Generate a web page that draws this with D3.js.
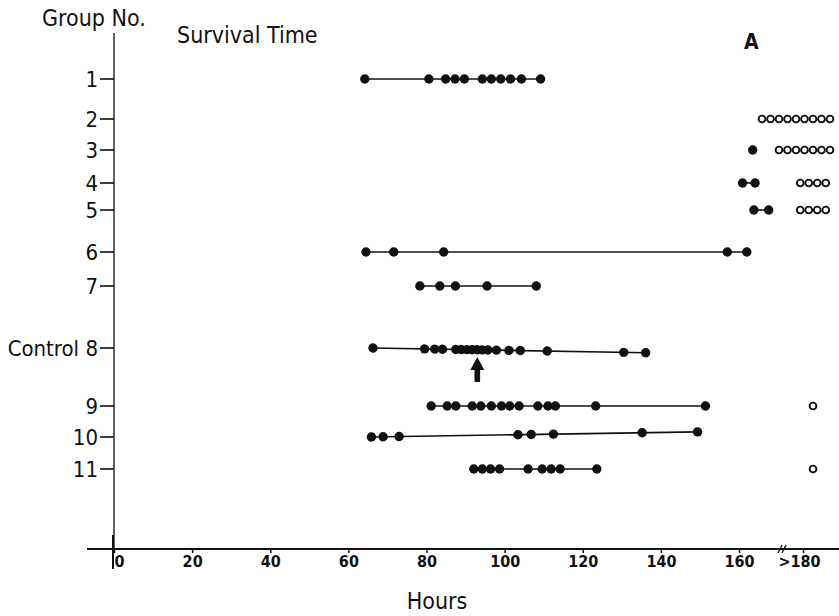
<!DOCTYPE html>
<html>
<head>
<meta charset="utf-8">
<script src="https://cdn.jsdelivr.net/npm/d3@7"></script>
<style>
  body { margin: 0; background: #fff; }
  text { font-family: "Liberation Sans Narrow", "DejaVu Sans Condensed", "Roboto Condensed", sans-serif; fill: #111; }
</style>
</head>
<body>
<div id="chart"></div>
<script>
// group labels, top to bottom
const groups = ["1", "2", "3", "4", "5", "6", "7", "8", "9", "10", "11"];
const groupLabels = ["1", "2", "3", "4", "5", "6", "7", "Control 8", "9", "10", "11"];

// hours at death for each group (filled dots)
const deaths = [
  [64.2, 80.6, 84.9, 87.3, 89.7, 94.3, 96.6, 99.0, 101.5, 104.3, 109.2],
  [],
  [163.5],
  [160.9, 164.1],
  [163.8, 167.6],
  [64.5, 71.6, 84.4, 157.0, 162.0],
  [78.3, 83.4, 87.4, 95.5, 108.1],
  [66.3, 79.5, 82.1, 84.1, 87.5, 88.9, 90.4, 91.7, 93.0, 94.3, 95.7, 97.9, 101.1, 104.0, 110.9, 130.5, 136.1],
  [81.2, 85.3, 87.5, 91.7, 93.9, 96.6, 99.2, 101.3, 103.7, 108.5, 111.1, 113.0, 123.3, 151.4],
  [65.9, 68.9, 73.0, 103.4, 106.8, 112.5, 135.2, 149.4],
  [92.1, 94.3, 96.4, 98.7, 106.0, 109.6, 111.9, 114.2, 123.6]
];

// animals still alive after 180 h (open circles)
const survivors = [0, 9, 7, 4, 4, 0, 0, 0, 1, 0, 1];

const hourTicks = [0, 20, 40, 60, 80, 100, 120, 140, 160, 180];
const arrowGroup = "8";
const arrowHour = 93;

const width = 839, height = 616;

const svg = d3.select("#chart").append("svg")
  .attr("width", width)
  .attr("height", height);

// axis is broken between 171 and 180 h
const x = d3.scaleLinear()
  .domain([0, 171, 180])
  .range([114, 782, 803]);

const y = d3.scaleOrdinal()
  .domain(groups)
  .range([79, 119, 150, 183, 210, 252, 286, 348, 406, 437, 469]);

// slight skew of some lines in the original (degrees)
const tilt = { "8": 1.0, "10": -0.9 };

const axisY = 549;

// vertical axis
svg.append("line")
  .attr("x1", x(0)).attr("x2", x(0))
  .attr("y1", 33).attr("y2", axisY)
  .attr("stroke", "#222")
  .attr("stroke-width", 1.4);
svg.append("line")
  .attr("x1", x(0) - 1).attr("x2", x(0) - 1)
  .attr("y1", axisY - 14).attr("y2", axisY + 20)
  .attr("stroke", "#111")
  .attr("stroke-width", 2);

// group ticks + labels
const rows = svg.append("g").selectAll("g")
  .data(groups)
  .join("g")
  .attr("transform", d => `translate(0,${y(d)})`);

rows.append("line")
  .attr("x1", x(0) - 14).attr("x2", x(0))
  .attr("stroke", "#111")
  .attr("stroke-width", 1.6);

rows.append("text")
  .attr("x", x(0) - 16)
  .attr("dy", "0.36em")
  .attr("text-anchor", "end")
  .style("font-size", "22px")
  .text((d, i) => groupLabels[i]);

// horizontal axis
svg.append("line")
  .attr("x1", 87).attr("x2", width)
  .attr("y1", axisY).attr("y2", axisY)
  .attr("stroke", "#111")
  .attr("stroke-width", 1.8);

const xAxis = svg.append("g")
  .attr("transform", `translate(0,${axisY})`)
  .call(d3.axisBottom(x)
    .tickValues(hourTicks)
    .tickSize(4)
    .tickFormat(d => d === 180 ? ">180" : d));

xAxis.select(".domain").remove();
xAxis.selectAll(".tick line").attr("stroke", "#111").attr("stroke-width", 1.5);
xAxis.selectAll(".tick text")
  .attr("y", 7)
  .attr("dx", d => d === 0 ? 5 : d === 180 ? -4 : 0)
  .style("font-family", "\"Liberation Sans Narrow\", \"DejaVu Sans Condensed\", sans-serif")
  .style("font-size", "16px")
  .style("font-weight", "bold")
  .style("fill", "#111");

// break mark on the axis
svg.append("g")
  .selectAll("line")
  .data([-2, 2])
  .join("line")
  .attr("x1", d => x(171) + d - 2).attr("x2", d => x(171) + d + 2)
  .attr("y1", axisY + 4).attr("y2", axisY - 4)
  .attr("stroke", "#111")
  .attr("stroke-width", 1.4);

// range lines and dots
const series = svg.append("g").selectAll("g")
  .data(groups.map((g, i) => ({ g, hours: deaths[i], alive: survivors[i] })))
  .join("g")
  .attr("transform", d => {
    const t = `translate(0,${y(d.g)})`;
    return tilt[d.g] ? `${t} rotate(${tilt[d.g]},${x(d3.min(d.hours))},0)` : t;
  });

series.filter(d => d.hours.length > 1)
  .append("line")
  .attr("x1", d => x(d3.min(d.hours)))
  .attr("x2", d => x(d3.max(d.hours)))
  .attr("stroke", "#111")
  .attr("stroke-width", 1.6);

series.selectAll("circle.dead")
  .data(d => d.hours)
  .join("circle")
  .attr("class", "dead")
  .attr("cx", d => x(d))
  .attr("r", 4.7)
  .attr("fill", "#111");

// open circles for survivors, centred at the >180 tick, clipped to right edge
const gap = 8.5;
series.selectAll("circle.alive")
  .data(d => {
    const right = Math.min(x(180) + 10 + (d.alive - 1) * gap / 2, 830);
    return d3.range(d.alive).map(k => right - (d.alive - 1 - k) * gap);
  })
  .join("circle")
  .attr("class", "alive")
  .attr("cx", d => d)
  .attr("r", 3.4)
  .attr("fill", "#fff")
  .attr("stroke", "#111")
  .attr("stroke-width", 1.9);

// arrow under the control group
svg.append("path")
  .attr("transform", `translate(${x(arrowHour)},${y(arrowGroup) + 9})`)
  .attr("d", "M0,0 L7,13 L2.8,13 L2.8,25 L-2.8,25 L-2.8,13 L-7,13 Z")
  .attr("fill", "#111");

// titles
svg.append("text")
  .attr("x", 42).attr("y", 26)
  .style("font-size", "23px")
  .text("Group No.");

svg.append("text")
  .attr("x", 177).attr("y", 43)
  .style("font-size", "23px")
  .text("Survival Time");

svg.append("text")
  .attr("x", 744).attr("y", 49)
  .style("font-size", "21px")
  .style("font-weight", "bold")
  .text("A");

svg.append("text")
  .attr("x", 437).attr("y", 609)
  .attr("text-anchor", "middle")
  .style("font-size", "23px")
  .text("Hours");
</script>
</body>
</html>
